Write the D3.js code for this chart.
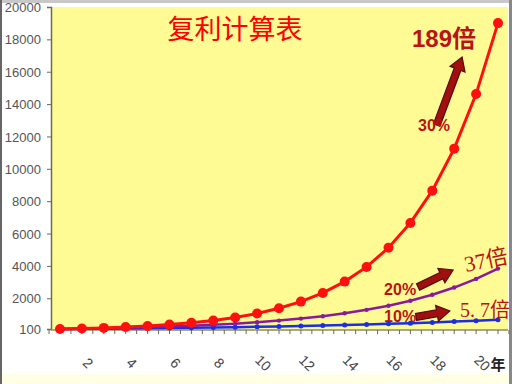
<!DOCTYPE html>
<html><head><meta charset="utf-8">
<script src="https://cdn.jsdelivr.net/npm/d3@7"></script>
<style>html,body{margin:0;padding:0;background:#fff;}svg{display:block;}</style>
</head><body>
<script>
const years = d3.range(0, 21);
const xTickLabels = ["2","4","6","8","10","12","14","16","18","20"];
const yTicks = [100, 2000, 4000, 6000, 8000, 10000, 12000, 14000, 16000, 18000, 20000];
const rate30 = [100,130,169,220,286,371,483,627,816,1060,1379,1792,2330,3029,3937,5119,6654,8650,11246,14619,19005];
const rate20 = [100,120,144,173,207,249,299,358,430,516,619,743,892,1070,1284,1541,1849,2219,2662,3195,3834];
const rate10 = [100,110,121,133,146,161,177,195,214,236,259,285,314,345,380,418,459,505,560,616,673];

const W = 512, H = 384;
const svg = d3.select("body").append("svg").attr("width", W).attr("height", H);

// page frame
svg.append("rect").attr("x",0).attr("y",0).attr("width",W).attr("height",H).attr("fill","#fff");
svg.append("rect").attr("x",0).attr("y",374).attr("width",W).attr("height",10).attr("fill","#FFFFE6");
svg.append("rect").attr("x",0).attr("y",0).attr("width",W).attr("height",3).attr("fill","#C8C8C8");
svg.append("rect").attr("x",0).attr("y",0).attr("width",2).attr("height",H).attr("fill","#666");
svg.append("rect").attr("x",509).attr("y",0).attr("width",3).attr("height",H).attr("fill","#888");

const x = d3.scaleLinear().domain([0, 20]).range([60, 498]);
const y = d3.scaleLinear().domain([100, 20000]).range([329, 7]);

// plot area
svg.append("rect").attr("x", 51).attr("y", 7).attr("width", 457).attr("height", 323).attr("fill", "#FEFB94");

// y axis
const yAxis = d3.axisLeft(y).tickValues(yTicks).tickSize(4).tickFormat(d3.format("d"));
const gy = svg.append("g").attr("transform", "translate(51,0)").call(yAxis);
gy.select(".domain").attr("stroke", "#6B6B4E").attr("stroke-width", 1.5);
gy.selectAll(".tick line").attr("stroke", "#6B6B4E");
gy.selectAll(".tick text").attr("fill", "#555").attr("font-family", "Liberation Sans, Arial, sans-serif")
  .attr("font-size", 13).attr("x", -10).attr("dy", "0.35em");

// x axis line and ticks
svg.append("line").attr("x1", 51).attr("x2", 508).attr("y1", 330).attr("y2", 330)
  .attr("stroke", "#8C8C6A").attr("stroke-width", 1.5);
const tickPos = d3.range(-0.5, 21, 0.5);
svg.selectAll(".xt").data(tickPos).enter().append("line")
  .attr("x1", d => x(d)).attr("x2", d => x(d)).attr("y1", 330).attr("y2", 334)
  .attr("stroke", "#6B6B4E");

// x labels (year k placed at index k-1)
svg.selectAll(".xl").data(xTickLabels).enter().append("text")
  .attr("transform", d => `translate(${x(+d - 1) + 6},${363}) rotate(45)`)
  .attr("text-anchor", "middle").attr("dy", "0.35em")
  .attr("font-family", "Liberation Sans, Arial, sans-serif").attr("font-size", 14).attr("fill", "#444")
  .text(d => d);
svg.append("text").attr("x", x(20)).attr("y", 370).attr("text-anchor", "middle")
  .attr("font-family", "Noto Sans CJK SC").attr("font-weight", "bold").attr("font-size", 15).attr("fill", "#222")
  .text("年");

const line = d3.line().x((d, i) => x(years[i])).y(d => y(d));

function series(data, color, width, r) {
  svg.append("path").datum(data).attr("d", line).attr("fill", "none").attr("stroke", color).attr("stroke-width", width);
  svg.selectAll(null).data(data).enter().append("circle")
    .attr("cx", (d, i) => x(years[i])).attr("cy", d => y(d)).attr("r", r).attr("fill", color);
}
series(rate10, "#1A2EE6", 2.5, 2.5);
series(rate20, "#8A1A9A", 2.5, 2.2);
series(rate30, "#FF1010", 3, 5);

// title
svg.append("text").attr("x", 235).attr("y", 39).attr("text-anchor", "middle")
  .attr("font-family", "Noto Sans CJK SC").attr("font-size", 27).attr("fill", "#FF0000")
  .text("复利计算表");

// annotations (in data coordinates)
const annColor = "#B81414";
function arrow(x0, y0, x1, y1) {
  const p0 = [x(x0), y(y0)], p1 = [x(x1), y(y1)];
  const dx = p1[0] - p0[0], dy = p1[1] - p0[1];
  const len = Math.hypot(dx, dy), ux = dx / len, uy = dy / len, nx = -uy, ny = ux;
  const sw = 3.5, hw = 8, hl = 13;
  const b = [p1[0] - ux * hl, p1[1] - uy * hl];
  const pts = [
    [p0[0] + nx * sw, p0[1] + ny * sw], [b[0] + nx * sw, b[1] + ny * sw], [b[0] + nx * hw, b[1] + ny * hw],
    p1, [b[0] - nx * hw, b[1] - ny * hw], [b[0] - nx * sw, b[1] - ny * sw], [p0[0] - nx * sw, p0[1] - ny * sw]
  ];
  svg.append("path").attr("d", "M" + pts.map(p => p.join(",")).join("L") + "Z")
    .attr("fill", "#A01010").attr("stroke", "#5A0A0A").attr("stroke-width", 1.2);
}
function label(t, xv, yv, size, weight, family, rot) {
  const px = x(xv), py = y(yv);
  svg.append("text").attr("transform", `translate(${px},${py}) rotate(${rot || 0})`)
    .attr("font-family", family).attr("font-size", size).attr("font-weight", weight).attr("fill", annColor)
    .text(t);
}
label("189倍", 16.07, 17528, 24, "bold", "Liberation Sans, Noto Sans CJK SC", 0);
arrow(17.2, 12707, 18.36, 16909);
label("30%", 16.35, 12337, 16, "bold", "Liberation Sans Narrow, Liberation Sans", 0);
label("20%", 14.8, 2201, 16, "bold", "Liberation Sans Narrow, Liberation Sans", 0);
arrow(16.35, 2696, 17.95, 3746);
label("37倍", 18.54, 3623, 22, "normal", "Liberation Serif, Noto Sans CJK SC", -12);
label("10%", 14.8, 533, 16, "bold", "Liberation Sans Narrow, Liberation Sans", 0);
arrow(16.26, 842, 17.8, 1212);
label("5. 7倍", 18.26, 842, 20, "normal", "Liberation Serif, Noto Sans CJK SC", 0);
</script>
</body></html>
